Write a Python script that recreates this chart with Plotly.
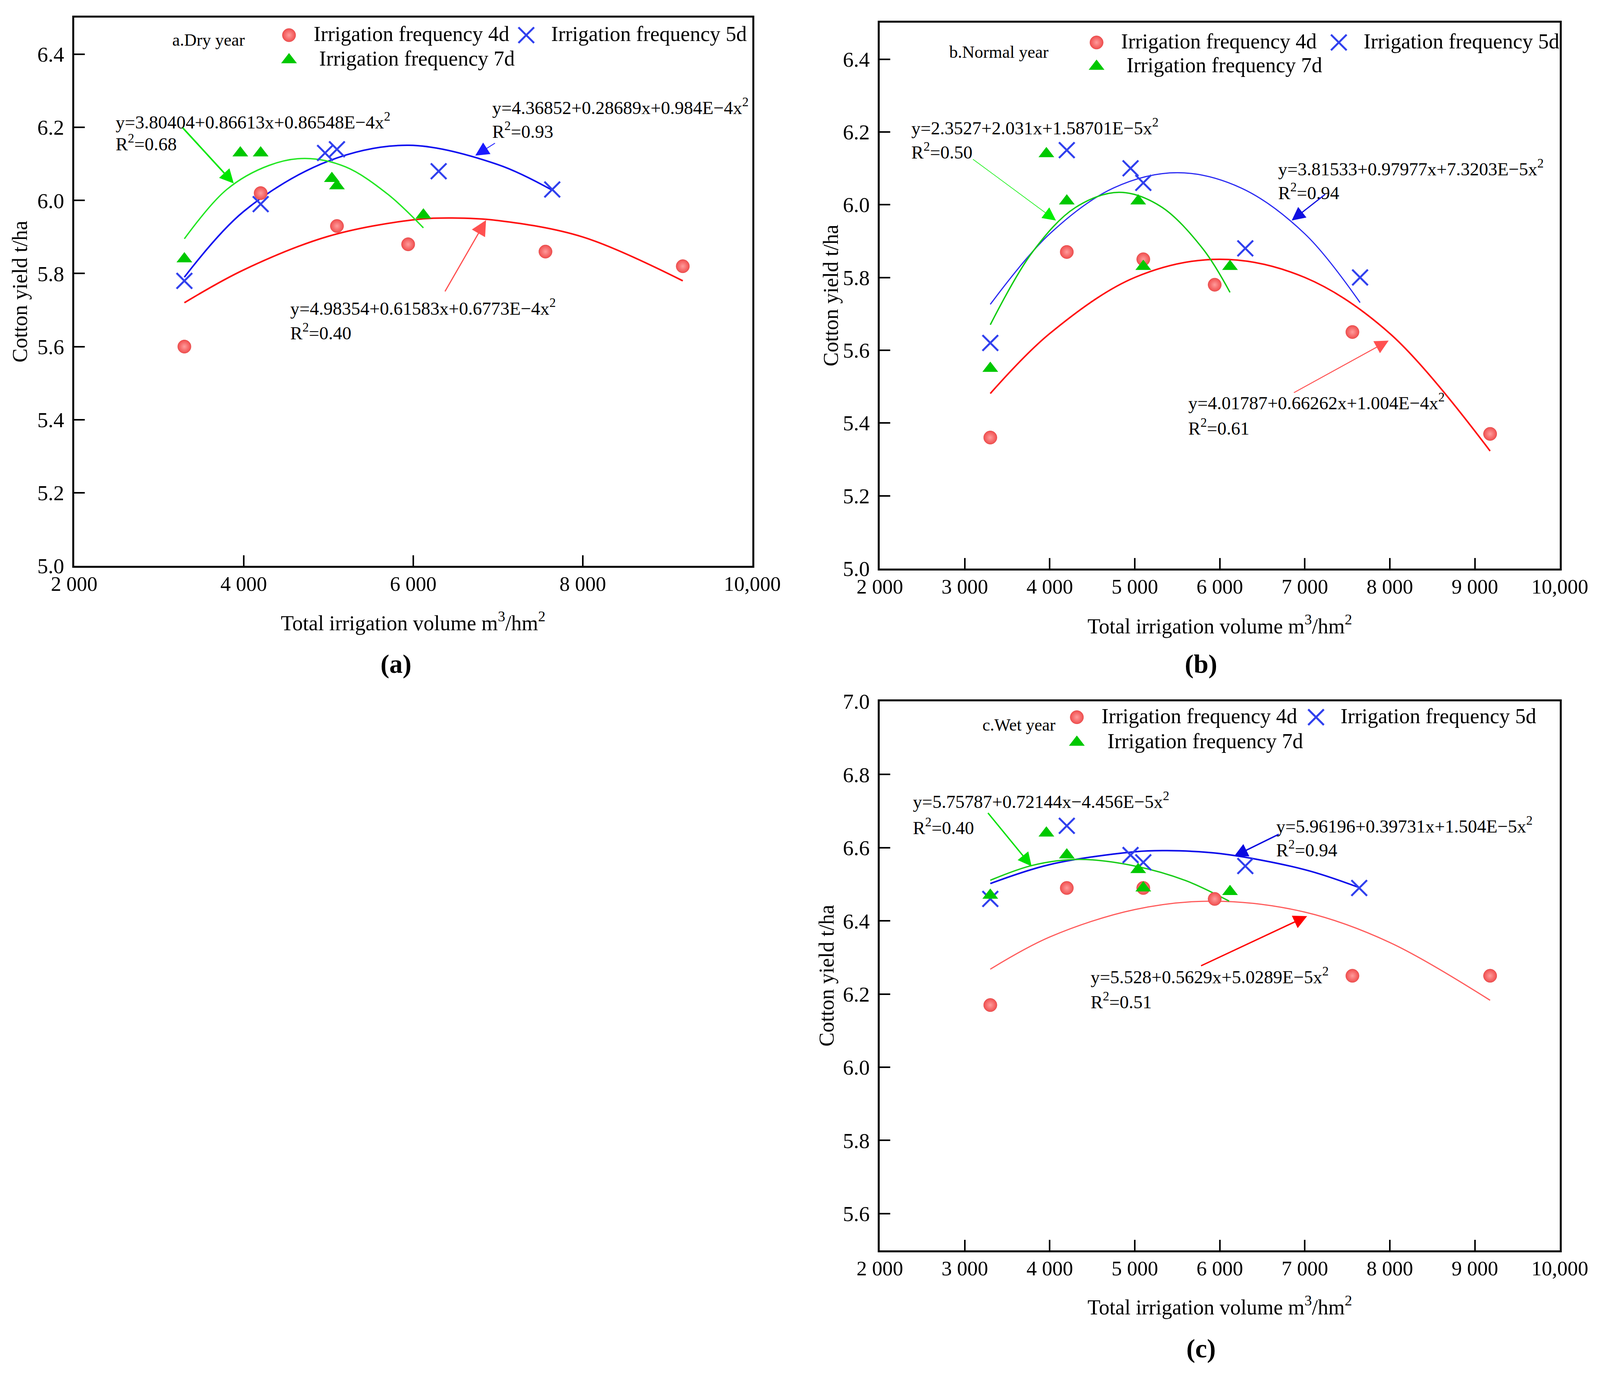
import plotly.graph_objects as go

# page size of the reference (px); domains below are given in these pixels
W, H = 4141, 3557
FONT = "Liberation Serif"


def fx(p):
    return p / W


def fy(p):
    return 1 - p / H


# ---------------- data ----------------
# a. Dry year
A4_X = [3300, 4200, 5100, 5940, 7560, 9180]
A4_Y = [5.60, 6.02, 5.93, 5.88, 5.86, 5.82]
A5_X = [3300, 4200, 4960, 5100, 6300, 7640]
A5_Y = [5.78, 5.99, 6.13, 6.14, 6.08, 6.03]
A7_X = [3300, 3960, 4200, 5040, 5100, 6120]
A7_Y = [5.84, 6.13, 6.13, 6.06, 6.04, 5.96]
# fitted curves
A4_FIT_X = [3300, 4000, 5000, 6000, 6460, 7000, 8000, 9180]
A4_FIT_Y = [5.72, 5.81, 5.902, 5.947, 5.952, 5.945, 5.90, 5.78]
A5_FIT_X = [3300, 4000, 5000, 5950, 7000, 7640]
A5_FIT_Y = [5.79, 5.97, 6.108, 6.151, 6.098, 6.028]
A7_FIT_X = [3300, 3800, 4300, 4725, 5200, 5700, 6120]
A7_FIT_Y = [5.895, 6.03, 6.096, 6.115, 6.092, 6.017, 5.925]

# b. Normal year
B4_X = [3300, 4200, 5100, 5940, 7560, 9180]
B4_Y = [5.36, 5.87, 5.85, 5.78, 5.65, 5.37]
B5_X = [3300, 4200, 4950, 5100, 6300, 7650]
B5_Y = [5.62, 6.15, 6.10, 6.06, 5.88, 5.80]
B7_X = [3300, 3960, 4200, 5040, 5100, 6120]
B7_Y = [5.55, 6.14, 6.01, 6.01, 5.83, 5.83]
B4_FIT_X = [3300, 4000, 5000, 6000, 7000, 8000, 9180]
B4_FIT_Y = [5.481, 5.646, 5.80, 5.85, 5.80, 5.646, 5.323]
B5_FIT_X = [3300, 4000, 4750, 5500, 6250, 7000, 7650]
B5_FIT_Y = [5.726, 5.92, 6.046, 6.088, 6.046, 5.92, 5.731]
B7_FIT_X = [3300, 3800, 4300, 4814, 5300, 5800, 6120]
B7_FIT_Y = [5.67, 5.871, 5.992, 6.034, 5.996, 5.879, 5.759]

# c. Wet year
C4_X = [3300, 4200, 5100, 5940, 7560, 9180]
C4_Y = [6.17, 6.49, 6.49, 6.46, 6.25, 6.25]
C5_X = [3300, 4200, 4950, 5100, 6300, 7640]
C5_Y = [6.46, 6.66, 6.58, 6.56, 6.55, 6.49]
C7_X = [3300, 3960, 4200, 5040, 5100, 6120]
C7_Y = [6.47, 6.64, 6.58, 6.54, 6.49, 6.48]
C4_FIT_X = [3300, 4000, 5000, 5930, 7000, 8000, 9180]
C4_FIT_Y = [6.268, 6.356, 6.431, 6.454, 6.424, 6.341, 6.183]
C5_FIT_X = [3300, 4000, 5000, 5380, 6000, 7000, 7640]
C5_FIT_Y = [6.502, 6.554, 6.589, 6.592, 6.584, 6.54, 6.491]
C7_FIT_X = [3300, 3800, 4350, 5000, 5600, 6110]
C7_FIT_Y = [6.511, 6.552, 6.568, 6.55, 6.51, 6.454]

# tick labels
XTICK_A = [2000, 4000, 6000, 8000, 10000]
XTEXT_A = ["2 000", "4 000", "6 000", "8 000", "10,000"]
XTICK_BC = [2000, 3000, 4000, 5000, 6000, 7000, 8000, 9000, 10000]
XTEXT_BC = ["2 000", "3 000", "4 000", "5 000", "6 000", "7 000", "8 000", "9 000", "10,000"]
YTICK_AB = [5.0, 5.2, 5.4, 5.6, 5.8, 6.0, 6.2, 6.4]
YTICK_C = [5.6, 5.8, 6.0, 6.2, 6.4, 6.6, 6.8, 7.0]

NAME4 = "Irrigation frequency 4d"
NAME5 = "Irrigation frequency 5d"
NAME7 = "Irrigation frequency 7d"

EQ_A = ["y=3.80404+0.86613x+0.86548E\u22124x<sup>2</sup>", "R<sup>2</sup>=0.68",
        "y=4.36852+0.28689x+0.984E\u22124x<sup>2</sup>", "R<sup>2</sup>=0.93",
        "y=4.98354+0.61583x+0.6773E\u22124x<sup>2</sup>", "R<sup>2</sup>=0.40"]
EQ_B = ["y=2.3527+2.031x+1.58701E\u22125x<sup>2</sup>", "R<sup>2</sup>=0.50",
        "y=3.81533+0.97977x+7.3203E\u22125x<sup>2</sup>", "R<sup>2</sup>=0.94",
        "y=4.01787+0.66262x+1.004E\u22124x<sup>2</sup>", "R<sup>2</sup>=0.61"]
EQ_C = ["y=5.75787+0.72144x\u22124.456E\u22125x<sup>2</sup>", "R<sup>2</sup>=0.40",
        "y=5.96196+0.39731x+1.504E\u22125x<sup>2</sup>", "R<sup>2</sup>=0.94",
        "y=5.528+0.5629x+5.0289E\u22125x<sup>2</sup>", "R<sup>2</sup>=0.51"]

RED_M = dict(symbol="circle", size=34, color="#f04e4e",
             gradient=dict(type="radial", color="#ff9c9c"), line=dict(width=1, color="#e24444"))
BLUE_M = dict(symbol="x-thin", size=40, color="#3040ee", line=dict(width=5, color="#3040ee"))
GREEN_M = dict(symbol="triangle-up", size=35, color="#00c800", line=dict(width=0))

fig = go.Figure()


def panel(n, pts, fits, fit_style):
    xa = "x" if n == 1 else "x%d" % n
    ya = "y" if n == 1 else "y%d" % n
    # fitted curves first, markers on top
    for (fxv, fyv), (col, wid) in zip(fits, fit_style):
        fig.add_trace(go.Scatter(x=fxv, y=fyv, mode="lines", line=dict(color=col, width=wid, shape="spline"),
                                 showlegend=False, hoverinfo="skip", xaxis=xa, yaxis=ya))
    for (xv, yv), name, mk in zip(pts, [NAME4, NAME5, NAME7], [RED_M, BLUE_M, GREEN_M]):
        fig.add_trace(go.Scatter(x=xv, y=yv, mode="markers", name=name, marker=mk,
                                 showlegend=False, xaxis=xa, yaxis=ya))


panel(1, [(A4_X, A4_Y), (A5_X, A5_Y), (A7_X, A7_Y)],
      [(A4_FIT_X, A4_FIT_Y), (A5_FIT_X, A5_FIT_Y), (A7_FIT_X, A7_FIT_Y)],
      [("#ff1010", 4), ("#1010f0", 4), ("#22e622", 3.5)])
panel(2, [(B4_X, B4_Y), (B5_X, B5_Y), (B7_X, B7_Y)],
      [(B4_FIT_X, B4_FIT_Y), (B5_FIT_X, B5_FIT_Y), (B7_FIT_X, B7_FIT_Y)],
      [("#ff1010", 4), ("#2a2af2", 3), ("#12cc12", 3.5)])
panel(3, [(C4_X, C4_Y), (C5_X, C5_Y), (C7_X, C7_Y)],
      [(C4_FIT_X, C4_FIT_Y), (C5_FIT_X, C5_FIT_Y), (C7_FIT_X, C7_FIT_Y)],
      [("#ff5a5a", 3), ("#0c0cea", 4), ("#18cc18", 3.5)])

# legend keys, drawn on a page-sized overlay axis (page px); one key row pair per panel
# (circle/cross row y, triangle row y, circle x, cross x)
LEG_POS = [(91, 155, 748, 1362), (110, 172, 2838, 3465), (1857, 1922, 2787, 3406)]
fig.add_trace(go.Scatter(x=[p[2] for p in LEG_POS], y=[p[0] for p in LEG_POS], mode="markers",
                         marker=RED_M, showlegend=False, hoverinfo="skip", xaxis="x4", yaxis="y4"))
fig.add_trace(go.Scatter(x=[p[3] for p in LEG_POS], y=[p[0] for p in LEG_POS], mode="markers",
                         marker=BLUE_M, showlegend=False, hoverinfo="skip", xaxis="x4", yaxis="y4"))
fig.add_trace(go.Scatter(x=[p[2] for p in LEG_POS], y=[p[1] for p in LEG_POS], mode="markers",
                         marker=GREEN_M, showlegend=False, hoverinfo="skip", xaxis="x4", yaxis="y4"))


def xaxis(left, right, anchor, vals, text):
    return dict(domain=[fx(left), fx(right)], anchor=anchor, range=[2000, 10000],
                tickvals=vals, ticktext=text, ticks="inside", ticklen=27, tickwidth=4,
                tickcolor="black", showline=True, mirror=True, linecolor="black", linewidth=4.5,
                showgrid=False, zeroline=False, ticklabelstandoff=-4,
                tickfont=dict(family=FONT, size=53, color="black"))


def yaxis(top_px, bottom_px, anchor, rng, vals):
    return dict(domain=[fy(bottom_px), fy(top_px)], anchor=anchor, range=rng,
                tickvals=vals, ticktext=["%.1f" % v for v in vals], ticks="inside", ticklen=27,
                tickwidth=4, tickcolor="black", showline=True, mirror=True, linecolor="black",
                linewidth=4.5, showgrid=False, zeroline=False, ticklabelstandoff=10,
                tickfont=dict(family=FONT, size=55, color="black"))


annotations = []


def text(x, y, s, size=47, anchor="left", bold=False, angle=0):
    if angle == 0:
        # annotation boxes sit a little low against the glyphs; lift them
        y -= 5 if "<sup>" in s else 3
    annotations.append(dict(x=fx(x), y=fy(y), xref="paper", yref="paper", text="<b>%s</b>" % s if bold else s,
                            showarrow=False, xanchor=anchor, yanchor="middle", textangle=angle,
                            font=dict(family=FONT, size=size, color="black")))


def arrow(tail, head, color, width, size):
    annotations.append(dict(x=fx(head[0]), y=fy(head[1]), xref="paper", yref="paper", text="",
                            showarrow=True, ax=tail[0] - head[0], ay=tail[1] - head[1],
                            arrowhead=2, arrowsize=size, arrowwidth=width, arrowcolor=color,
                            standoff=0, startstandoff=0))


XT = "Total irrigation volume m<sup>3</sup>/hm<sup>2</sup>"
YT = "Cotton yield t/ha"

# legend texts
for (r1, r2, cx, xx), gap7 in zip(LEG_POS, [76, 76, 77]):
    text(cx + 62, r1, NAME4, size=54)
    text(xx + 62, r1, NAME5, size=54)
    text(cx + gap7, r2, NAME7, size=54)

# panel a
text(540, 107, "a.Dry year", size=44, anchor="center")
text(297, 318, EQ_A[0]); text(297, 375, EQ_A[1])
text(1272, 281, EQ_A[2]); text(1272, 342, EQ_A[3])
text(749, 800, EQ_A[4]); text(749, 864, EQ_A[5])
arrow((473, 331), (605, 475), "#00e600", 4, 1.8)
arrow((1282, 370), (1230, 403), "#1a1aff", 2, 3.5)
arrow((1152, 754), (1258, 570), "#ff5050", 3, 2.6)
text(1069, 1614, XT, size=54, anchor="center")
text(51, 755, YT, size=54, anchor="center", angle=-90)
text(1025, 1722, "(a)", size=68, anchor="center", bold=True)

# panel b
text(2585, 138, "b.Normal year", size=44, anchor="center")
text(2357, 333, EQ_B[0]); text(2357, 396, EQ_B[1])
text(3306, 439, EQ_B[2]); text(3306, 501, EQ_B[3])
text(3073, 1045, EQ_B[4]); text(3073, 1111, EQ_B[5])
arrow((2519, 413), (2733, 571), "#00ee00", 1.5, 4.5)
arrow((3430, 503), (3343, 571), "#1010e0", 3, 2.3)
arrow((3350, 1016), (3594, 882), "#ff5050", 2.5, 2.8)
text(3157, 1622, XT, size=54, anchor="center")
text(2150, 765, YT, size=54, anchor="center", angle=-90)
text(3108, 1722, "(b)", size=68, anchor="center", bold=True)

# panel c
text(2637, 1880, "c.Wet year", size=44, anchor="center")
text(2361, 2077, EQ_C[0]); text(2361, 2145, EQ_C[1])
text(3301, 2141, EQ_C[2]); text(3301, 2203, EQ_C[3])
text(2821, 2531, EQ_C[4]); text(2821, 2596, EQ_C[5])
arrow((2557, 2105), (2670, 2243), "#00e000", 3.5, 2)
arrow((3310, 2160), (3194, 2217), "#0a0ae0", 3.5, 2)
arrow((3110, 2500), (3383, 2372), "#ff0000", 3.5, 2)
text(3157, 3386, XT, size=54, anchor="center")
text(2140, 2526, YT, size=54, anchor="center", angle=-90)
text(3108, 3494, "(c)", size=68, anchor="center", bold=True)

fig.update_layout(
    width=W, height=H, margin=dict(l=0, r=0, t=0, b=0, pad=0, autoexpand=False),
    paper_bgcolor="white", plot_bgcolor="rgba(0,0,0,0)",
    font=dict(family=FONT, color="black"),
    showlegend=False,
    xaxis=xaxis(192, 1947, "y", XTICK_A, XTEXT_A),
    yaxis=yaxis(46, 1465, "x", [5.0, 6.5], YTICK_AB),
    xaxis2=xaxis(2277, 4037, "y2", XTICK_BC, XTEXT_BC),
    yaxis2=yaxis(59, 1472, "x2", [5.0, 6.5], YTICK_AB),
    xaxis3=xaxis(2277, 4037, "y3", XTICK_BC, XTEXT_BC),
    yaxis3=yaxis(1816, 3237, "x3", [5.5, 7.0], YTICK_C),
    xaxis4=dict(domain=[0, 1], range=[0, W], visible=False, anchor="y4", fixedrange=True),
    yaxis4=dict(domain=[0, 1], range=[H, 0], visible=False, anchor="x4", fixedrange=True),
    annotations=annotations,
)

# no page margin; fit the figure to the visible window width, keeping the page aspect
POST = """
document.body.style.margin = '0px';
document.body.style.overflow = 'hidden';
var gd = document.getElementById('{plot_id}');
var w = window.innerWidth;
Plotly.relayout(gd, {width: w, height: Math.round(w * 3557 / 4141)});
"""
fig.write_html("out.html", config={"displayModeBar": False}, post_script=POST)
